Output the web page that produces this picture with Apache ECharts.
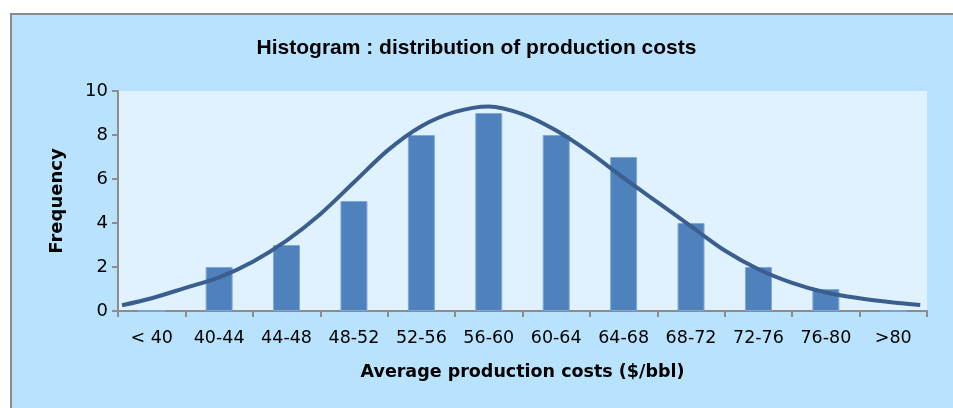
<!DOCTYPE html>
<html>
<head>
<meta charset="utf-8">
<script src="https://cdn.jsdelivr.net/npm/echarts@6/dist/echarts.min.js"></script>
<style>
  html, body { margin: 0; padding: 0; background: #fff; overflow: hidden; width: 953px; height: 408px; }
  #frame {
    position: absolute; left: 10px; top: 13px; width: 941px; height: 393px;
    background: #B9E3FD; border-left: 2px solid #8a8a8a; border-top: 2px solid #8a8a8a;
  }
  #main { position: absolute; left: 0; top: 0; width: 953px; height: 408px; }
</style>
</head>
<body>
<div id="frame"></div>
<div id="main"></div>
<script>
// cost bins and counts
const categories = ['< 40', '40-44', '44-48', '48-52', '52-56', '56-60', '60-64', '64-68', '68-72', '72-76', '76-80', '>80']
const frequency = [0, 2, 3, 5, 8, 9, 8, 7, 4, 2, 1, 0]
const yTicks = [0, 2, 4, 6, 8, 10]

// fitted curve (x in bin units, 0 = left edge of the axis)
const curveX = [0.06, 0.5, 1, 1.5, 2, 2.5, 3, 3.5, 4, 4.5, 5, 5.5, 6, 6.5, 7, 7.5, 8, 8.5, 9, 9.5, 10, 10.5, 11, 11.5, 11.9]
const curveY = [0.26, 0.58, 1.05, 1.53, 2.24, 3.2, 4.4, 5.85, 7.3, 8.4, 9.05, 9.3, 8.95, 8.2, 7.2, 6.05, 4.95, 3.85, 2.75, 1.9, 1.28, 0.84, 0.58, 0.39, 0.27]

const chart = echarts.init(document.getElementById('main'))
const option = {
  backgroundColor: 'transparent',
  animation: false,
  title: {
    text: 'Histogram : distribution of production costs',
    left: 'center',
    top: 33,
    textStyle: { fontFamily: 'Liberation Sans', fontWeight: 'bold', fontSize: 21, color: '#000' },
  },
  grid: {
    left: 118, right: 26, top: 91, bottom: 97,
    show: true, backgroundColor: '#E0F2FE', borderWidth: 0,
  },
  xAxis: [
    {
      type: 'category',
      data: categories,
      boundaryGap: true,
      name: 'Average production costs ($/bbl)',
      nameLocation: 'middle',
      nameGap: 52,
      nameTextStyle: { fontFamily: 'DejaVu Sans', fontWeight: 'bold', fontSize: 17.5, color: '#000' },
      axisLine: { lineStyle: { color: '#8c8c8c', width: 2 } },
      axisTick: { show: true, length: 6, lineStyle: { color: '#8c8c8c', width: 2 } },
      axisLabel: { fontFamily: 'DejaVu Sans', fontSize: 17.5, color: '#000', margin: 18 },
      splitLine: { show: false },
    },
    {
      type: 'value',
      min: 0,
      max: 12,
      show: false,
    },
  ],
  yAxis: {
    type: 'value',
    min: yTicks[0],
    max: yTicks[yTicks.length - 1],
    interval: 2,
    name: 'Frequency',
    nameLocation: 'middle',
    nameGap: 52,
    nameTextStyle: { fontFamily: 'DejaVu Sans', fontWeight: 'bold', fontSize: 18, color: '#000' },
    axisLine: { show: true, lineStyle: { color: '#8c8c8c', width: 2 } },
    axisTick: { show: true, length: 6, lineStyle: { color: '#8c8c8c', width: 2 } },
    axisLabel: { fontFamily: 'DejaVu Sans', fontSize: 18, color: '#000', margin: 10 },
    splitLine: { show: false },
  },
  series: [
    {
      type: 'bar',
      data: frequency,
      barWidth: '40%',
      itemStyle: { color: '#4F81BD', borderColor: '#7FA7D8', borderWidth: 1 },
    },
    {
      type: 'line',
      xAxisIndex: 1,
      data: curveX.map((x, i) => [x, curveY[i]]),
      smooth: 0.3,
      showSymbol: false,
      symbol: 'none',
      lineStyle: { color: '#3A5F8F', width: 4 },
    },
  ],
}
chart.setOption(option)
</script>
</body>
</html>
